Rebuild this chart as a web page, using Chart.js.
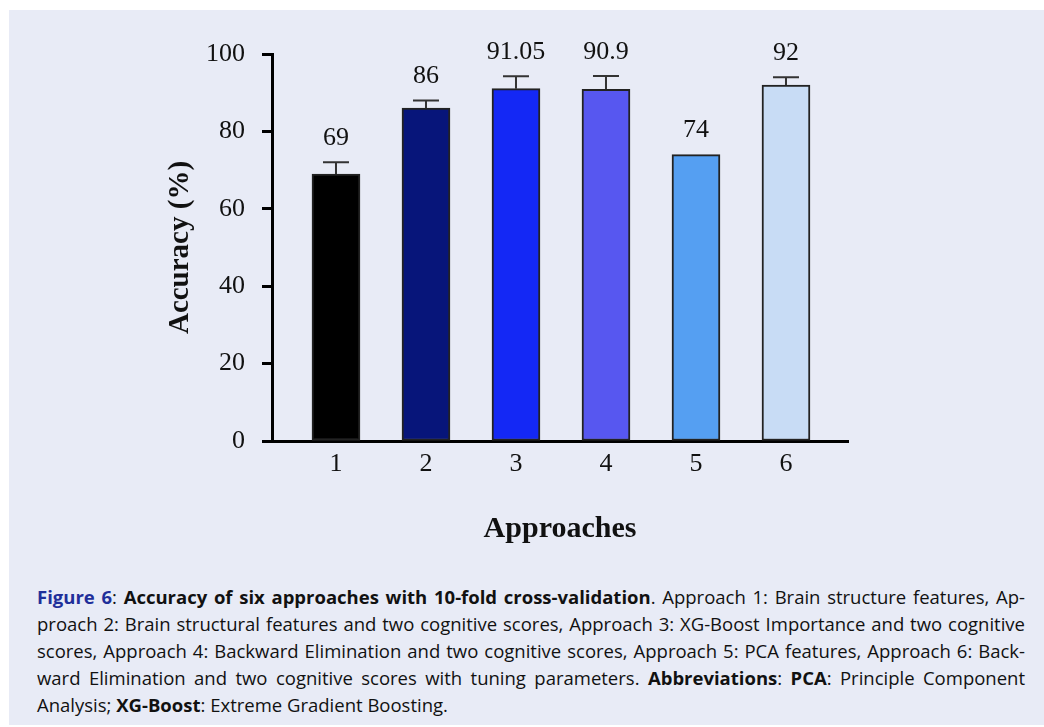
<!DOCTYPE html>
<html>
<head>
<meta charset="utf-8">
<script src="https://cdn.jsdelivr.net/npm/chart.js@4"></script>
<style>
  body { margin: 0; background: #fff; }
  #panel { position: absolute; left: 9px; top: 10px; width: 1035px; height: 715px; background: #e8ebf6; }
  #chartBox { position: absolute; left: -9px; top: -10px; width: 1044px; height: 560px; }
  #caption { position: absolute; left: 28px; top: 573px; width: 988px; font-family: "Open Sans", sans-serif; font-size: 18.5px; line-height: 27px; color: #111; }
  #caption div { text-align: justify; text-align-last: justify; white-space: nowrap; }
  #caption div.last { text-align-last: left; }
  #caption b { font-weight: 700; }
  .fig { color: #1f2f9a; font-weight: 700; }
</style>
</head>
<body>
<div id="panel">
  <div id="chartBox"><canvas id="accChart"></canvas></div>
  <div id="caption">
    <div><span class="fig">Figure 6</span>: <b>Accuracy of six approaches with 10-fold cross-validation</b>. Approach 1: Brain structure features, Ap-</div>
    <div>proach 2: Brain structural features and two cognitive scores, Approach 3: XG-Boost Importance and two cognitive</div>
    <div>scores, Approach 4: Backward Elimination and two cognitive scores, Approach 5: PCA features, Approach 6: Back-</div>
    <div>ward Elimination and two cognitive scores with tuning parameters. <b>Abbreviations</b>: <b>PCA</b>: Principle Component</div>
    <div class="last">Analysis; <b>XG-Boost</b>: Extreme Gradient Boosting.</div>
  </div>
</div>
<script>
var approaches = [1, 2, 3, 4, 5, 6];
var accuracy = [69, 86, 91.05, 90.9, 74, 92];
var accuracyLabels = ['69', '86', '91.05', '90.9', '74', '92'];
var errorPlus = [3, 2, 3.2, 3.4, 0, 2];
var barColors = ['#000000', '#07157a', '#1428f5', '#5757f0', '#559ff2', '#c8dcf5'];
var yTicks = [0, 20, 40, 60, 80, 100];

var serif = '"Liberation Serif", "Times New Roman", serif';

// upward-only error bars and value labels above them
var errorBarsAndLabels = {
    id: 'errorBarsAndLabels',
    afterDatasetsDraw: function (chart) {
        var ctx = chart.ctx;
        var meta = chart.getDatasetMeta(0);
        var y = chart.scales.y;
        ctx.save();
        ctx.strokeStyle = '#333';
        ctx.lineWidth = 2;
        meta.data.forEach(function (bar, i) {
            var topVal = accuracy[i] + errorPlus[i];
            var yTop = y.getPixelForValue(topVal);
            if (errorPlus[i] > 0) {
                ctx.beginPath();
                ctx.moveTo(bar.x, bar.y);
                ctx.lineTo(bar.x, yTop);
                ctx.moveTo(bar.x - 13, yTop);
                ctx.lineTo(bar.x + 13, yTop);
                ctx.stroke();
            }
            ctx.fillStyle = '#111';
            ctx.font = '26px ' + serif;
            ctx.textAlign = 'center';
            ctx.textBaseline = 'middle';
            ctx.fillText(accuracyLabels[i], bar.x, yTop - 24);
        });
        ctx.restore();
    }
};

var ctx = document.getElementById('accChart').getContext('2d');
var accChart = new Chart(ctx, {
    type: 'bar',
    data: {
        datasets: [{
            data: approaches.map(function (a, i) { return { x: a, y: accuracy[i] }; }),
            backgroundColor: barColors,
            borderColor: '#222',
            borderWidth: 2,
            borderSkipped: false,
            barThickness: 48
        }]
    },
    options: {
        responsive: true,
        maintainAspectRatio: false,
        animation: false,
        layout: { padding: { left: 0, top: 54, right: 196, bottom: 0 } },
        plugins: {
            legend: { display: false },
            tooltip: { enabled: false }
        },
        scales: {
            x: {
                type: 'linear',
                offset: false,
                min: 0.289,
                max: 6.689,
                afterBuildTicks: function (scale) {
                    scale.ticks = approaches.map(function (v) { return { value: v }; });
                },
                afterFit: function (scale) { scale.height = 119; },
                grid: { display: false },
                border: { display: true, color: '#000', width: 3 },
                ticks: {
                    color: '#111',
                    padding: 0,
                    font: { family: serif, size: 26 }
                },
                title: {
                    display: true,
                    text: 'Approaches',
                    color: '#111',
                    font: { family: serif, size: 30, weight: 'bold' },
                    padding: { bottom: 13 }
                }
            },
            y: {
                min: 0,
                max: 100,
                afterBuildTicks: function (scale) {
                    scale.ticks = yTicks.map(function (v) { return { value: v }; });
                },
                afterFit: function (scale) { scale.width = 272; },
                grid: {
                    display: true,
                    drawOnChartArea: false,
                    drawTicks: true,
                    tickLength: 10,
                    tickWidth: 3,
                    tickColor: '#000'
                },
                border: { display: true, color: '#000', width: 3 },
                ticks: {
                    color: '#111',
                    padding: 17,
                    font: { family: serif, size: 26 }
                },
                title: {
                    display: true,
                    text: 'Accuracy (%)',
                    color: '#111',
                    font: { family: serif, size: 29, weight: 'bold' },
                    padding: { top: 163 }
                }
            }
        }
    },
    plugins: [errorBarsAndLabels]
});
</script>
</body>
</html>
